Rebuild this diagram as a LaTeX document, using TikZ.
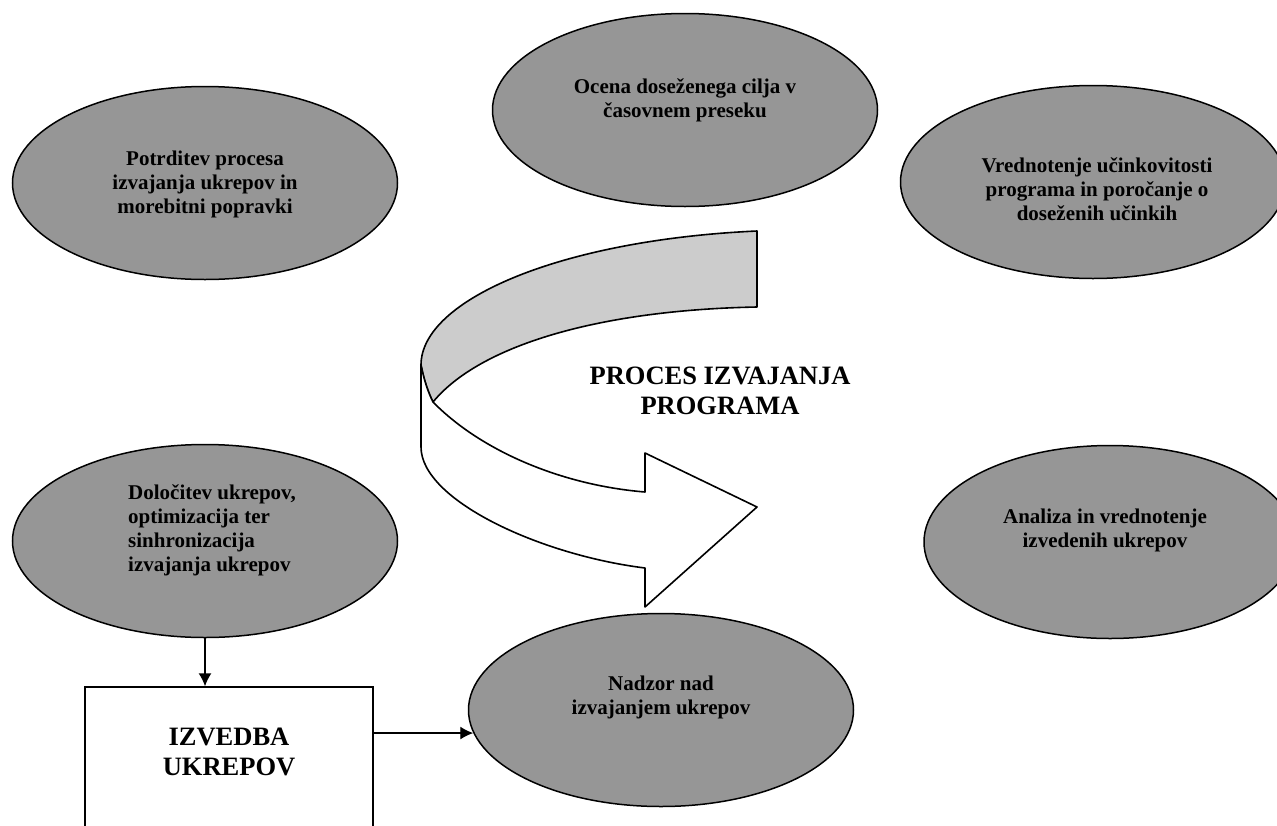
\documentclass[tikz,border=0pt]{standalone}
\usepackage{fontspec}
\setmainfont{Liberation Serif}
\usetikzlibrary{shapes.geometric,arrows.meta}
\definecolor{ellgray}{RGB}{150,150,150}
\definecolor{bandgray}{RGB}{204,204,204}
\tikzset{
  oval/.style={ellipse,draw=black,fill=ellgray,line width=1.5pt,minimum width=385pt,minimum height=193pt,inner sep=0pt},
  ovaltext/.style={font=\bfseries\fontsize{21}{24}\selectfont,align=center,inner sep=0pt},
  bigtext/.style={font=\bfseries\fontsize{26.5}{30}\selectfont,align=center,inner sep=0pt},
  conn/.style={line width=1.4pt,-{Latex[length=13pt,width=13pt]}},
  ribbon/.style={draw=black,line width=1.6pt,line join=round}
}
\begin{document}
\begin{tikzpicture}[x=1pt,y=-1pt]
\useasboundingbox (0,0) rectangle (1277,825);
\clip (0,0) rectangle (1277,825);
\fill[white] (0,0) rectangle (1277,825);
% ellipses
\node[oval] (potr) at (205,183) {};
\node[ovaltext] (potrT) at (205,184) {Potrditev procesa\\izvajanja\ ukrepov in\\morebitni popravki};
\node[oval] (ocena) at (685,110) {};
\node[ovaltext] (ocenaT) at (685,100) {Ocena doseženega cilja v\\časovnem preseku};
\node[oval] (vred) at (1093,182) {};
\node[ovaltext] (vredT) at (1097,189) {Vrednotenje učinkovitosti\\programa in poročanje o\\doseženih učinkih};
\node[oval] (dolo) at (205,541) {};
\node[ovaltext,align=left,anchor=west] (doloT) at (128,530) {Določitev ukrepov,\\optimizacija ter\\sinhronizacija\\izvajanja ukrepov};
\node[oval,minimum width=372pt] (anal) at (1110,542) {};
\node[ovaltext] (analT) at (1105,530) {Analiza in vrednotenje\\izvedenih ukrepov};
\node[oval] (nadz) at (661,710) {};
\node[ovaltext] (nadzT) at (661,697) {Nadzor nad\\izvajanjem ukrepov};
% box
\node[draw=black,line width=1.4pt,fill=white,minimum width=288pt,minimum height=170pt,inner sep=0pt] (izv) at (229,772) {};
\node[bigtext] (izvT) at (229,752) {IZVEDBA\\UKREPOV};
% connectors
\draw[conn] (dolo.south) -- (dolo.south |- izv.north);
\draw[conn] (izv.east |- nadz.187) -- (nadz.187);
% ribbon arrow
\draw[ribbon,fill=bandgray] (757,231) .. controls (560,240) and (421,300) .. (421,365)
  .. controls (424,380) and (428,392) .. (433,402)
  .. controls (480,345) and (600,310) .. (757,307) -- cycle;
\draw[ribbon,fill=white] (421,365) -- (421,447) .. controls (421,500) and (540,555) .. (645,568)
  -- (645,607) -- (757,507) -- (645,453) -- (645,492)
  .. controls (560,485) and (480,450) .. (433,402)
  .. controls (428,392) and (424,380) .. (421,365) -- cycle;
\node[bigtext] (title) at (720,391) {PROCES IZVAJANJA\\PROGRAMA};
\end{tikzpicture}
\end{document}
